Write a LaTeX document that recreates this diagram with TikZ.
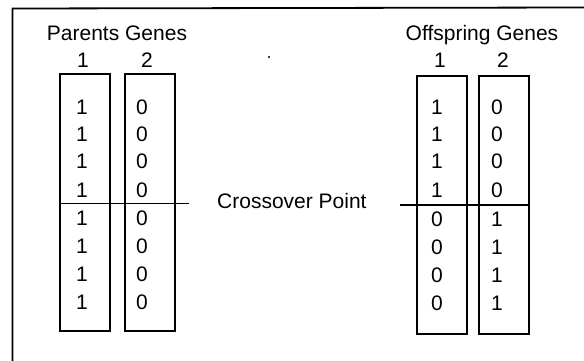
\documentclass[tikz,border=0pt]{standalone}
\usepackage{fontspec}
\setmainfont{Liberation Sans}
\begin{document}
\begin{tikzpicture}[x=1pt,y=-1pt,
  every node/.style={inner sep=0pt,font=\fontsize{21}{25}\selectfont},
  genebox/.style={draw,line width=1.6pt,minimum width=50pt,minimum height=257pt,anchor=north west},
  title/.style={anchor=base},
  digit/.style={anchor=center},
  xline/.style={line width=1.6pt},
  frameline/.style={line width=1.8pt}]
\useasboundingbox (0,0) rectangle (584,361);
% outer frame (only top and left visible)
\coordinate (fbl) at (12.5,361);
\coordinate (ftl) at (12.5,8.5);
\coordinate (ftr) at (584,7.5);
\draw[frameline] (fbl) -- (ftl) -- (ftr);
% titles
\node[title] (pt) at (117,41) {Parents Genes};
\node[title] (ot) at (482,41) {Offspring Genes};
\node[title] (ph1) at (83,67) {1};
\node[title] (ph2) at (147,67) {2};
\node[title] (oh1) at (440,67) {1};
\node[title] (oh2) at (503,67) {2};
% boxes
\node[genebox] (pb1) at (59,73) {};
\node[genebox] (pb2) at (124,73) {};
\node[genebox,minimum height=258pt] (ob1) at (416,75) {};
\node[genebox,minimum height=258pt] (ob2) at (478,75) {};
% parent digits
\foreach \y [count=\i] in {107,134,161,190,218,246,274,302}{
  \node[digit] (pa\i) at (82,\y) {1};
  \node[digit] (pb\i) at (142,\y) {0};
}
% offspring digits
\foreach \y [count=\i] in {107,134,161,190}{
  \node[digit] (oa\i) at (437,\y) {1};
  \node[digit] (ob\i) at (497,\y) {0};
}
\foreach \y [count=\i from 5] in {219,247,275,303}{
  \node[digit] (oa\i) at (437,\y) {0};
  \node[digit] (ob\i) at (497,\y) {1};
}
% crossover lines
\coordinate (pxl) at (59,203.5);
\coordinate (pxr) at (189,203.5);
\coordinate (oxl) at (400,205);
\coordinate (oxr) at (528,205);
\draw[xline] (pxl) -- (pxr);
\draw[xline] (oxl) -- (oxr);
\node[anchor=base west] (cp) at (217,208) {Crossover Point};
% stray dot
\fill (269,57) circle (1.2pt);
\end{tikzpicture}
\end{document}
